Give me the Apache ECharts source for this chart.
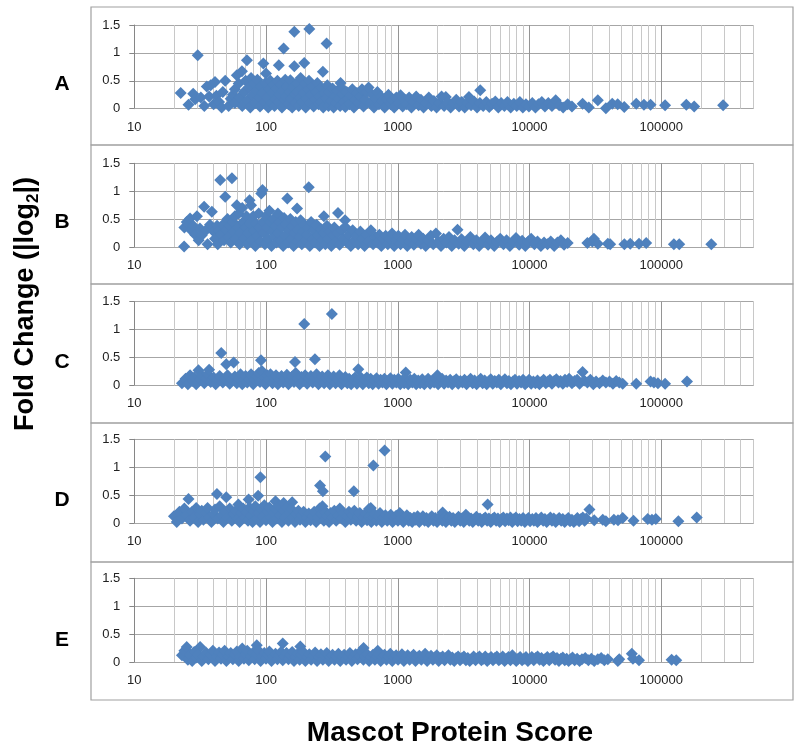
<!DOCTYPE html>
<html><head><meta charset="utf-8">
<script src="https://cdn.jsdelivr.net/npm/echarts@6/dist/echarts.min.js"></script>
<style>html,body{margin:0;padding:0;background:#fff}#c{width:800px;height:751px}</style>
</head><body><div id="c"></div>
<script>
// ---- data: [Mascot protein score, |log2 fold change|] ----
const panelA = [
[22.5,0.28],[25.8,0.07],[28,0.27],[29,0.17],[30.3,0.96],[32,0.2],[34,0.05],[35.5,0.4],[37,0.22],[38,0.42],[40,0.08],[41,0.48],[42,0.23],[44,0.12],[46,0.02],[49,0.5],[47,0.3],[52,0.05],[54,0.18],[56,0.25],[58,0.1],
[58,0.35],[60,0.6],[62,0.45],[63,0.2],[65.6,0.67],[66,0.05],[68,0.3],[70,0.5],[71.6,0.87],[72,0.15],[74,0.38],[76,0.02],[77,0.55],[79,0.25],[81,0.45],[83,0.1],[85,0.32],[86,0.52],[88,0.2],[90,0.04],[92,0.4],[94,0.28],[95.5,0.81],[97,0.12],[100,0.63],[99,0.46],[102,0.2],[104,0.02],[106,0.35],[108,0.5],
[110,0.1],[112,0.28],[114,0.42],[116,0.05],[118,0.18],[120,0.36],[122,0.5],[125,0.78],[124,0.12],[127,0.25],[130,0.44],[132,0.02],[134,0.32],[136,1.08],[138,0.15],[140,0.52],[142,0.22],[145,0.4],[148,0.08],[150,0.3],[153,0.51],[155,0.18],[158,0.02],[160,0.38],[164,1.38],[164,0.76],[166,0.25],[168,0.1],[171,0.45],[174,0.3],[177,0.05],[180,0.2],[183,0.55],[186,0.36],[190,0.12],[195,0.82],[193,0.28],[198,0.45],[200,0.02],[204,0.18],[208,0.34],[213,1.43],[212,0.5],[216,0.1],[220,0.25],[225,0.4],[230,0.04],[235,0.16],[240,0.3],[245,0.46],[250,0.08],[255,0.22],[260,0.38],[265,0.12],[270,0.66],[272,0.02],[278,0.28],[285,0.18],[288,1.17],[292,0.42],[298,0.05],
[305,0.3],[312,0.14],[320,0.36],[326,0.02],[333,0.22],[340,0.1],[348,0.32],[356,0.18],[365,0.05],[368,0.46],[372,0.38],[380,0.26],[390,0.12],[400,0.03],[410,0.3],[420,0.18],[430,0.08],[440,0.24],[452,0.35],[465,0.02],[478,0.15],[490,0.28],[505,0.1],[520,0.22],[535,0.35],[550,0.04],[565,0.16],[580,0.3],[600,0.38],[620,0.1],[640,0.25],[660,0.02],[680,0.18],[700,0.3],
[720,0.08],[745,0.22],[770,0.14],[795,0.02],[820,0.18],[850,0.25],[880,0.08],[910,0.15],[940,0.02],[975,0.2],[1010,0.1],[1050,0.24],[1090,0.04],[1130,0.16],[1170,0.08],[1220,0.2],[1270,0.02],[1320,0.12],[1380,0.22],[1440,0.06],[1500,0.16],[1570,0.02],[1640,0.1],[1720,0.2],[1800,0.05],[1880,0.14],[1970,0.02],[2060,0.1],[2150,0.22],[2250,0.05],[2317,0.21],[2400,0.12],[2520,0.02],[2650,0.1],[2780,0.16],[2920,0.04],
[3060,0.12],[3220,0.02],[3380,0.1],[3470,0.21],[3600,0.06],[3800,0.13],[4000,0.02],[4230,0.33],[4200,0.1],[4450,0.05],[4700,0.12],[4950,0.03],[5200,0.09],[5500,0.13],[5800,0.02],[6100,0.1],[6450,0.05],[6800,0.12],[7200,0.02],[7600,0.09],[8000,0.05],[8450,0.12],[8900,0.02],[9400,0.08],[9900,0.04],[10500,0.1],[11100,0.02],[11700,0.08],[12400,0.12],[13100,0.04],[13900,0.1],[14800,0.05],[15800,0.15],[16800,0.06],[18000,0.02],[19500,0.08],[21000,0.04],
[25300,0.09],[28200,0.02],[33000,0.15],[38000,0.01],[42500,0.09],[46700,0.08],[52400,0.03],[64600,0.09],[73900,0.07],[83000,0.07],[107000,0.06],[155000,0.07],[178000,0.04],[295000,0.06]
];
const panelB = [
[23.9,0.01],[24,0.35],[25,0.45],[26.5,0.51],[27,0.3],[28,0.38],[29,0.22],[29.9,0.55],[30.8,0.12],[31.5,0.33],[32.5,0.21],[33.9,0.72],[35,0.3],[36,0.05],[37.5,0.4],[38.8,0.63],[40,0.28],[41,0.15],[42.5,0.38],[43,0.05],
[44.9,1.2],[44,0.3],[45.5,0.22],[47,0.4],[48,0.12],[49,0.9],[50,0.3],[51,0.5],[52,0.18],[53,0.38],[55.1,1.23],[54,0.08],[56,0.45],[57,0.28],[58,0.55],[59,0.15],[60,0.75],[61,0.35],[62,0.6],[63,0.05],[64,0.25],[66,0.7],[67,0.45],[68,0.15],[70,0.35],[71,0.55],[72,0.05],[74,0.25],[75,0.84],[76,0.42],[77,0.75],[78,0.12],[80,0.55],[81,0.3],[83,0.02],[84,0.42],[86,0.2],[88,0.6],[89,0.35],[91,0.1],[92,0.96],[94,1.02],[95,0.45],[96,0.25],[98,0.05],[100,0.55],
[102,0.35],[104,0.15],[106,0.65],[108,0.45],[110,0.02],[112,0.28],[114,0.5],[116,0.18],[118,0.38],[120,0.08],[123,0.6],[125,0.25],[127,0.45],[130,0.12],[132,0.35],[135,0.02],[137,0.52],[140,0.2],[142,0.4],[145,0.87],[147,0.08],[150,0.3],[153,0.5],[156,0.15],[159,0.38],[162,0.02],[165,0.25],[168,0.45],[172,0.69],[171,0.1],[175,0.32],[179,0.18],[183,0.48],[187,0.05],[191,0.28],[195,0.4],[200,0.12],[205,0.22],[211,1.07],[210,0.35],[215,0.02],[220,0.45],[225,0.15],[230,0.3],[236,0.08],[242,0.4],[248,0.2],[255,0.02],[262,0.32],[268,0.12],[275,0.55],[275,0.25],[282,0.05],[290,0.38],[297,0.15],
[305,0.28],[313,0.02],[322,0.2],[330,0.35],[340,0.1],[352,0.61],[350,0.25],[362,0.04],[375,0.3],[385,0.15],[398,0.48],[400,0.36],[412,0.08],[425,0.22],[440,0.02],[455,0.3],[470,0.12],[485,0.2],[500,0.05],[520,0.28],[540,0.14],[560,0.02],[580,0.22],[600,0.1],[625,0.3],[650,0.05],[675,0.18],[700,0.08],
[725,0.22],[750,0.02],[780,0.14],[810,0.2],[840,0.05],[870,0.15],[905,0.24],[940,0.02],[975,0.12],[1010,0.2],[1050,0.05],[1090,0.14],[1135,0.22],[1180,0.02],[1225,0.1],[1275,0.18],[1325,0.04],[1380,0.14],[1440,0.22],[1500,0.06],[1560,0.15],[1630,0.02],[1700,0.12],[1780,0.2],[1860,0.05],[1950,0.24],[2040,0.1],[2130,0.02],[2230,0.15],[2340,0.08],[2450,0.18],[2570,0.02],[2700,0.12],[2840,0.31],[2900,0.06],
[3050,0.14],[3200,0.02],[3380,0.1],[3560,0.18],[3750,0.05],[3950,0.12],[4150,0.02],[4380,0.1],[4600,0.17],[4850,0.04],[5100,0.12],[5400,0.02],[5700,0.1],[6000,0.15],[6350,0.05],[6700,0.12],[7100,0.02],[7500,0.1],[7900,0.16],[8350,0.04],[8800,0.11],[9300,0.02],[9800,0.1],[10300,0.15],[10900,0.05],[11500,0.1],[12200,0.02],[12900,0.08],[13700,0.05],[14500,0.1],[15400,0.02],[16300,0.08],[17300,0.12],[18300,0.04],[19500,0.07],
[27500,0.07],[30000,0.1],[30800,0.15],[33000,0.06],[39300,0.06],[41000,0.05],[52500,0.05],[58200,0.06],[67800,0.06],[76900,0.07],[124700,0.05],[137000,0.05],[240000,0.05]
];
const panelC = [
[23,0.04],[24.5,0.12],[25.5,0.02],[26.5,0.18],[27.5,0.08],[28.5,0.14],[29.5,0.02],[30.7,0.27],[31.5,0.1],[32.5,0.18],[34,0.04],[35,0.13],[36,0.2],[37,0.28],[38,0.06],[40,0.14],[41.5,0.02],[43,0.1],[44.5,0.17],[45.7,0.58],[47,0.05],[48.5,0.12],[49.9,0.38],[51,0.18],[53,0.03],[55,0.1],[56.8,0.41],[58,0.16],[60,0.04],[62,0.12],[64,0.2],[66,0.02],[68,0.1],[70,0.17],[72,0.05],[75,0.12],[77,0.2],[80,0.02],[82,0.1],[85,0.16],[88,0.22],[90,0.06],[91.6,0.45],[93,0.26],[96,0.14],[99,0.02],
[102,0.18],[105,0.1],[108,0.2],[112,0.04],[115,0.14],[119,0.18],[123,0.02],[127,0.1],[131,0.17],[135,0.05],[139,0.13],[144,0.19],[148,0.02],[153,0.1],[158,0.16],[163,0.06],[166,0.42],[168,0.22],[174,0.12],[180,0.02],[186,0.15],[192,0.08],[195,1.1],[198,0.18],[205,0.03],[212,0.12],[219,0.17],[226,0.05],[235,0.47],[234,0.13],[242,0.2],[250,0.02],[258,0.1],[267,0.16],[276,0.04],[285,0.12],[295,0.18],
[305,0.02],[316,1.28],[315,0.1],[326,0.16],[337,0.04],[349,0.12],[361,0.18],[374,0.02],[387,0.1],[400,0.15],[414,0.04],[428,0.12],[443,0.02],[458,0.1],[474,0.14],[490,0.03],[502,0.29],[508,0.1],[525,0.14],[543,0.02],[562,0.1],[582,0.14],[602,0.04],[623,0.12],[645,0.02],[667,0.09],[690,0.13],[715,0.03],[740,0.1],[765,0.05],[792,0.12],[820,0.02],[850,0.09],[880,0.13],[910,0.03],[942,0.1],[975,0.05],
[1010,0.12],[1045,0.02],[1082,0.09],[1120,0.04],[1150,0.23],[1160,0.11],[1200,0.02],[1245,0.1],[1290,0.05],[1335,0.12],[1380,0.02],[1430,0.09],[1480,0.04],[1535,0.11],[1590,0.02],[1645,0.08],[1700,0.12],[1760,0.03],[1825,0.09],[1890,0.05],[1955,0.11],[2000,0.18],[2025,0.02],[2100,0.08],[2170,0.12],[2250,0.03],[2330,0.09],[2410,0.05],[2500,0.1],[2590,0.02],[2680,0.08],[2780,0.11],[2880,0.03],[2990,0.08],
[3100,0.05],[3210,0.1],[3330,0.02],[3450,0.08],[3570,0.12],[3700,0.04],[3830,0.09],[3970,0.02],[4110,0.08],[4260,0.12],[4410,0.04],[4570,0.09],[4730,0.02],[4900,0.07],[5080,0.11],[5260,0.03],[5450,0.08],[5650,0.05],[5850,0.1],[6060,0.02],[6280,0.07],[6500,0.11],[6740,0.04],[6980,0.08],[7230,0.02],[7490,0.07],[7760,0.1],[8040,0.03],[8330,0.08],[8630,0.05],[8940,0.1],[9260,0.02],[9600,0.06],[9940,0.1],
[10300,0.03],[10700,0.07],[11100,0.04],[11500,0.09],[11900,0.02],[12300,0.06],[12800,0.1],[13300,0.04],[13800,0.07],[14300,0.1],[14800,0.03],[15400,0.08],[16000,0.11],[16600,0.05],[17200,0.08],[17900,0.03],[18600,0.1],[19300,0.06],[20000,0.12],[21000,0.04],[22000,0.08],[23000,0.1],[24000,0.03],[25300,0.24],[26000,0.09],[27500,0.05],[29000,0.1],[30500,0.02],[32000,0.07],[34000,0.04],[36000,0.09],[38000,0.05],[40500,0.07],[43000,0.03],[45500,0.08],[48000,0.05],[51000,0.03],
[64600,0.03],[83000,0.07],[88000,0.05],[94400,0.04],[107000,0.03],[157000,0.07]
];
const panelD = [
[20,0.12],[21,0.02],[22,0.2],[23,0.08],[24,0.26],[25,0.14],[25.8,0.43],[26.5,0.04],[27.5,0.2],[28.5,0.1],[29.5,0.27],[30.5,0.02],[31.5,0.15],[32.5,0.22],[33.5,0.06],[35,0.18],[36,0.27],[37,0.1],[38.5,0.02],[40,0.16],[41,0.24],[42.4,0.52],[43,0.08],[44.5,0.3],[46,0.14],[47.5,0.02],[49.9,0.46],[49,0.2],[51,0.1],[53,0.26],[55,0.04],[57,0.16],[59,0.22],[61.7,0.33],[61,0.08],[63,0.02],[65,0.18],[67,0.26],[69,0.1],[71,0.2],[73.8,0.42],[73,0.04],[75,0.28],[77,0.14],[79,0.02],[81,0.2],[83,0.3],[85,0.08],[87.1,0.49],[88,0.18],[90.6,0.82],[90,0.02],[92,0.26],[95,0.12],[97,0.32],
[100,0.05],[103,0.2],[106,0.28],[109,0.1],[112,0.02],[115,0.18],[118,0.39],[118,0.25],[121,0.08],[125,0.3],[128,0.14],[132,0.02],[136,0.36],[136,0.22],[140,0.1],[144,0.28],[148,0.04],[152,0.18],[158,0.37],[156,0.25],[161,0.1],[166,0.02],[171,0.16],[176,0.22],[181,0.06],[187,0.14],[193,0.2],[199,0.02],[205,0.1],[211,0.17],[218,0.05],[225,0.13],[232,0.2],[240,0.02],[248,0.1],[257,0.67],[255,0.26],[262,0.16],[270,0.57],[268,0.3],[275,0.04],[282,1.19],[283,0.2],[292,0.12],
[301,0.02],[310,0.18],[320,0.1],[330,0.22],[341,0.04],[352,0.14],[363,0.26],[375,0.08],[387,0.18],[400,0.02],[413,0.12],[426,0.2],[440,0.06],[454,0.15],[464,0.57],[468,0.22],[483,0.04],[499,0.12],[515,0.18],[532,0.02],[550,0.1],[567,0.16],[585,0.05],[604,0.25],[605,0.12],[624,0.27],[630,0.02],[653,1.03],[645,0.1],[666,0.16],[688,0.04],[710,0.12],[733,0.18],[757,0.02],[781,0.1],[795,1.3],[806,0.14],[832,0.04],[858,0.1],[885,0.15],[913,0.02],[942,0.09],[972,0.13],
[1003,0.04],[1035,0.18],[1068,0.08],[1102,0.02],[1137,0.1],[1173,0.14],[1210,0.04],[1248,0.09],[1287,0.02],[1328,0.1],[1370,0.06],[1413,0.12],[1458,0.02],[1504,0.08],[1551,0.12],[1600,0.04],[1650,0.09],[1702,0.02],[1756,0.08],[1811,0.12],[1868,0.04],[1927,0.09],[1988,0.02],[2050,0.08],[2115,0.12],[2190,0.19],[2180,0.04],[2250,0.09],[2320,0.02],[2400,0.08],[2470,0.11],[2550,0.04],[2630,0.09],[2710,0.02],[2800,0.07],[2890,0.11],[2980,0.04],
[3070,0.08],[3170,0.02],[3270,0.07],[3290,0.15],[3380,0.11],[3490,0.04],[3600,0.08],[3710,0.02],[3830,0.07],[3950,0.11],[4080,0.04],[4210,0.08],[4340,0.02],[4480,0.07],[4620,0.1],[4770,0.04],[4810,0.33],[4920,0.08],[5080,0.02],[5240,0.07],[5410,0.1],[5580,0.04],[5760,0.08],[5940,0.02],[6130,0.07],[6330,0.1],[6530,0.03],[6740,0.08],[6950,0.05],[7170,0.1],[7400,0.02],[7640,0.07],[7880,0.1],[8130,0.03],[8390,0.07],[8660,0.04],[8940,0.09],[9220,0.02],[9520,0.06],[9820,0.09],
[10100,0.03],[10500,0.07],[10800,0.04],[11200,0.09],[11500,0.02],[11900,0.06],[12300,0.1],[12700,0.04],[13100,0.07],[13500,0.02],[13900,0.06],[14400,0.1],[14800,0.04],[15300,0.08],[15800,0.02],[16300,0.06],[16800,0.09],[17400,0.04],[17900,0.07],[18500,0.02],[19100,0.06],[19700,0.09],[20300,0.03],[21000,0.06],[21700,0.02],[22400,0.05],[23100,0.09],[23800,0.03],[24600,0.07],[25400,0.1],[26200,0.04],[27000,0.08],[28500,0.24],
[31000,0.05],[36000,0.06],[38000,0.03],[43700,0.06],[47000,0.05],[51000,0.09],[61600,0.04],[79000,0.07],[85000,0.06],[91000,0.07],[135000,0.03],[186000,0.1]
];
const panelE = [
[23,0.12],[24,0.2],[25,0.27],[25.5,0.04],[26.5,0.14],[27.5,0.02],[28.5,0.18],[29.5,0.08],[31.6,0.27],[30.5,0.14],[32.5,0.02],[33.5,0.1],[35,0.17],[36.5,0.05],[38,0.13],[39.5,0.2],[41,0.02],[42.5,0.1],[44,0.17],[45.5,0.06],[47,0.13],[48.5,0.2],[50,0.02],[52,0.1],[54,0.16],[56,0.05],[58,0.13],[60,0.19],[62,0.02],[64,0.1],[66,0.24],[68,0.06],[70,0.14],[72,0.2],[74,0.03],[77,0.1],[80,0.17],[82,0.05],[85,0.3],[85,0.14],[88,0.2],[91,0.02],[94,0.1],[97,0.16],
[100,0.06],[103,0.13],[106,0.19],[110,0.02],[114,0.1],[118,0.15],[122,0.05],[126,0.12],[130,0.18],[134,0.33],[134,0.03],[138,0.1],[143,0.16],[148,0.05],[153,0.12],[158,0.18],[163,0.02],[168,0.09],[174,0.15],[182,0.28],[180,0.04],[186,0.12],[192,0.18],[199,0.02],[206,0.09],[213,0.14],[220,0.04],[228,0.11],[236,0.17],[244,0.02],[252,0.09],[261,0.14],[270,0.04],[279,0.11],[289,0.16],[299,0.02],
[309,0.09],[320,0.13],[331,0.04],[342,0.1],[354,0.15],[366,0.02],[379,0.09],[392,0.13],[405,0.04],[419,0.1],[433,0.16],[448,0.02],[463,0.09],[479,0.14],[495,0.05],[512,0.11],[530,0.2],[550,0.25],[548,0.04],[567,0.1],[586,0.14],[606,0.02],[627,0.09],[648,0.13],[670,0.04],[693,0.1],[705,0.2],[717,0.14],[742,0.02],[767,0.09],[794,0.13],[821,0.04],[849,0.1],[878,0.15],[908,0.02],[940,0.08],[972,0.12],
[1005,0.04],[1040,0.09],[1076,0.14],[1113,0.02],[1151,0.08],[1190,0.12],[1231,0.04],[1274,0.09],[1318,0.13],[1363,0.02],[1410,0.08],[1458,0.11],[1509,0.04],[1561,0.09],[1614,0.15],[1670,0.02],[1727,0.07],[1787,0.11],[1848,0.04],[1912,0.08],[1978,0.12],[2046,0.02],[2117,0.07],[2190,0.1],[2265,0.03],[2343,0.08],[2424,0.12],[2507,0.04],[2594,0.08],[2683,0.02],[2775,0.07],[2871,0.1],[2970,0.03],
[3072,0.07],[3178,0.1],[3288,0.03],[3401,0.07],[3518,0.02],[3640,0.06],[3765,0.1],[3895,0.03],[4029,0.07],[4168,0.1],[4312,0.03],[4460,0.06],[4614,0.1],[4773,0.02],[4938,0.06],[5108,0.09],[5284,0.03],[5466,0.07],[5655,0.1],[5850,0.03],[6051,0.06],[6260,0.1],[6476,0.02],[6699,0.06],[6930,0.09],[7169,0.03],[7416,0.12],[7672,0.06],[7937,0.02],[8210,0.06],[8494,0.09],[8787,0.03],[9090,0.06],[9403,0.09],[9727,0.02],
[10060,0.06],[10410,0.09],[10770,0.03],[11140,0.07],[11520,0.1],[11920,0.04],[12330,0.07],[12760,0.02],[13200,0.06],[13650,0.09],[14120,0.03],[14610,0.07],[15110,0.1],[15630,0.04],[16170,0.07],[16730,0.02],[17300,0.06],[17900,0.08],[18520,0.03],[19160,0.06],[19820,0.02],[20500,0.05],[21200,0.08],[22000,0.03],[23000,0.06],[24000,0.02],[25000,0.05],[26500,0.07],[28000,0.03],[29500,0.06],[31000,0.02],[33000,0.05],[35000,0.07],[37000,0.03],[39300,0.05],
[46800,0.02],[48000,0.05],[59800,0.15],[61000,0.06],[67800,0.03],[120000,0.04],[130000,0.03]
];

const panelNames = ['A', 'B', 'C', 'D', 'E'];
const panels = [panelA, panelB, panelC, panelD, panelE];
const xMin = 10, xMax = 500000;
const yMin = 0, yMax = 1.5, yStep = 0.5;
const decades = [10, 100, 1000, 10000, 100000];
const minorMultipliers = [2, 3, 4, 5, 6, 7, 8, 9];
const xTitle = 'Mascot Protein Score';

// ---- layout / style ----
const FONT = "'Liberation Sans', Arial, sans-serif";
const gridLeft = 134.3, gridWidth = 619;
const gridTops = [25, 163.3, 301.7, 439.3, 578.3];
const gridH = 83.7;
const boxes = [[7, 138], [145, 139], [284, 139], [423, 139], [562, 138]];
const letterY = [84, 222, 362, 500, 640];
const markerColor = '#4F81BD';

const minorTicks = [];
decades.forEach(d => minorMultipliers.forEach(m => { if (d * m <= xMax) minorTicks.push(d * m); }));

const grids = [], xAxes = [], yAxes = [], series = [];
panels.forEach((data, i) => {
  grids.push({ left: gridLeft, width: gridWidth, top: gridTops[i], height: gridH, containLabel: false });
  xAxes.push({
    type: 'log', logBase: 10, min: xMin, max: xMax, gridIndex: i,
    axisLine: { show: true, lineStyle: { color: '#a6a6a6', width: 1 } },
    axisTick: { show: false },
    axisLabel: { show: true, fontSize: 13, fontFamily: FONT, color: '#222', margin: 12, showMaxLabel: false,
      formatter: v => String(Math.round(v)) },
    splitLine: { show: true, lineStyle: { color: '#959595', width: 1 } }
  });
  yAxes.push({
    type: 'value', min: yMin, max: yMax, interval: yStep, gridIndex: i,
    axisLine: { show: true, lineStyle: { color: '#868686', width: 1 } },
    axisTick: { show: true, length: 5, lineStyle: { color: '#868686' } },
    axisLabel: { fontSize: 13, fontFamily: FONT, color: '#222', margin: 14 },
    splitLine: { show: true, lineStyle: { color: '#a6a6a6', width: 1 } }
  });
  series.push({
    type: 'scatter', xAxisIndex: i, yAxisIndex: i, data: data,
    symbol: 'diamond', symbolSize: 12, z: 3, silent: true,
    itemStyle: { color: markerColor, opacity: 1 },
    markLine: {
      silent: true, symbol: 'none', z: 1, animation: false,
      label: { show: false },
      lineStyle: { color: '#c8c8c8', width: 1, type: 'solid' },
      emphasis: { disabled: true },
      data: minorTicks.map(v => ({ xAxis: v }))
    }
  });
});

const graphics = [];
boxes.forEach(b => graphics.push({
  type: 'rect', z: -1, shape: { x: 91, y: b[0], width: 702, height: b[1] },
  style: { fill: 'none', stroke: '#a0a0a0', lineWidth: 1.2 }
}));
panelNames.forEach((n, i) => graphics.push({
  type: 'text', x: 62, y: letterY[i],
  style: { text: n, fontSize: 21, fontWeight: 'bold', fontFamily: FONT, fill: '#000', align: 'center', verticalAlign: 'middle' }
}));
graphics.push({
  type: 'text', x: 26, y: 304, rotation: Math.PI / 2,
  style: {
    text: '{a|Fold Change (|log}{b|2}{a||)}',
    align: 'center', verticalAlign: 'middle', fill: '#000',
    rich: {
      a: { fontSize: 27, fontWeight: 'bold', fontFamily: FONT, fill: '#000', lineHeight: 32 },
      b: { fontSize: 17, fontWeight: 'bold', fontFamily: FONT, fill: '#000', verticalAlign: 'bottom', lineHeight: 32 }
    }
  }
});
graphics.push({
  type: 'text', x: 450, y: 733,
  style: { text: xTitle, fontSize: 28, fontWeight: 'bold', fontFamily: FONT, fill: '#000', align: 'center', verticalAlign: 'middle' }
});

const chart = echarts.init(document.getElementById('c'), null, { renderer: 'canvas' });
chart.setOption({
  animation: false,
  backgroundColor: '#fff',
  grid: grids, xAxis: xAxes, yAxis: yAxes, series: series,
  graphic: graphics
});
</script></body></html>
